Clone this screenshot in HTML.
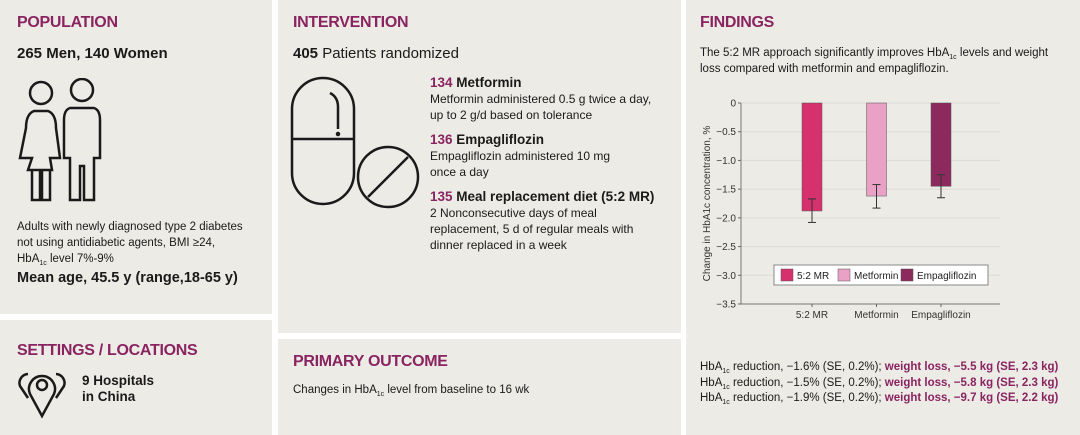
<!DOCTYPE html>
<html><head><meta charset="utf-8">
<style>
*{margin:0;padding:0;box-sizing:border-box}
body{width:1080px;height:435px;background:#fff;position:relative;overflow:hidden;font-family:"Liberation Sans Narrow","Liberation Sans",sans-serif;color:#1a1a1a}
.p{position:absolute;background:#ecebe5}
.h{position:absolute;color:#8a2461;font-weight:bold;font-size:16px;letter-spacing:-0.3px}
.t{position:absolute;font-size:12px;line-height:16px}
.b{font-weight:bold}
.m{color:#8a2461;font-weight:bold}
sub{font-size:7px;line-height:0;vertical-align:-3px}
</style></head><body>
<div class="p" style="left:0;top:0;width:272px;height:314px"></div>
<div class="p" style="left:0;top:320px;width:272px;height:115px"></div>
<div class="p" style="left:278px;top:0;width:403px;height:333px"></div>
<div class="p" style="left:278px;top:339px;width:403px;height:96px"></div>
<div class="p" style="left:686px;top:0;width:394px;height:435px"></div>

<div class="h" style="left:17px;top:14px">POPULATION</div>
<div class="t b" style="left:17px;top:46px;font-size:15px">265 Men, 140 Women</div>
<svg style="position:absolute;left:14px;top:78px" width="90" height="130" fill="none" stroke="#1a1a1a" stroke-width="2.5">
<circle cx="27" cy="15" r="11"/><path d="M20 33 L34 33 Q42 36 42 50 L46 80 L36 80 L38 92 L14 92 L18 80 L6 80 L12 50 Q12 36 20 33Z"/><path d="M18 92 L18 122 L26 122 L26 92 M28 92 L28 122 L36 122 L36 92"/>
<circle cx="68" cy="12" r="11"/><path d="M56 30 L80 30 Q86 32 86 42 L86 80 L80 80 L80 122 L70 122 L70 88 L66 88 L66 122 L56 122 L56 80 L50 80 L50 42 Q50 32 56 30Z"/></svg>
<div class="t" style="left:17px;top:219px;font-size:11.5px">Adults with newly diagnosed type 2 diabetes<br>not using antidiabetic agents, BMI ≥24,<br>HbA<sub>1c</sub> level 7%-9%</div>
<div class="t b" style="left:17px;top:270px;font-size:14.5px">Mean age, 45.5 y (range,18-65 y)</div>

<div class="h" style="left:17px;top:342px">SETTINGS / LOCATIONS</div>
<svg style="position:absolute;left:16px;top:370px" width="52" height="50" fill="none" stroke="#1a1a1a" stroke-width="2.5"><path d="M26 46 L14 24 A13 13 0 1 1 38 24Z"/><circle cx="26" cy="15" r="5"/><path d="M12 28 L4 16 A9 9 0 0 1 12 4 M40 28 L48 16 A9 9 0 0 0 40 4"/></svg>
<div class="t b" style="left:82px;top:373px;font-size:13.5px">9 Hospitals<br>in China</div>

<div class="h" style="left:293px;top:14px">INTERVENTION</div>
<div class="t" style="left:293px;top:46px;font-size:15px"><b>405</b> Patients randomized</div>
<svg style="position:absolute;left:290px;top:75px" width="140" height="135" fill="none" stroke="#1a1a1a" stroke-width="2.5"><rect x="2" y="3" width="62" height="126" rx="31"/><line x1="2" y1="64" x2="64" y2="64"/><path d="M40 18 Q48 22 48 32 L48 54"/><circle cx="48" cy="59" r="1" fill="#1a1a1a"/><circle cx="98" cy="102" r="30"/><line x1="78" y1="122" x2="118" y2="82"/></svg>
<div class="t" style="left:430px;top:75px"><span style="font-size:13.5px"><span class="m">134</span> <b>Metformin</b></span><br>Metformin administered 0.5 g twice a day,<br>up to 2 g/d based on tolerance</div>
<div class="t" style="left:430px;top:132px"><span style="font-size:13.5px"><span class="m">136</span> <b>Empagliflozin</b></span><br>Empagliflozin administered 10 mg<br>once a day</div>
<div class="t" style="left:430px;top:189px"><span style="font-size:13.5px"><span class="m">135</span> <b>Meal replacement diet (5:2 MR)</b></span><br>2 Nonconsecutive days of meal<br>replacement, 5 d of regular meals with<br>dinner replaced in a week</div>

<div class="h" style="left:293px;top:353px">PRIMARY OUTCOME</div>
<div class="t" style="left:293px;top:382px;font-size:11.5px">Changes in HbA<sub>1c</sub> level from baseline to 16 wk</div>

<div class="h" style="left:700px;top:14px">FINDINGS</div>
<div class="t" style="left:700px;top:45px;font-size:11.5px;line-height:16px">The 5:2 MR approach significantly improves HbA<sub>1c</sub> levels and weight<br>loss compared with metformin and empagliflozin.</div>

<svg id="chart" style="position:absolute;left:686px;top:90px" width="394" height="240"></svg>

<div class="t" style="left:700px;top:360px;font-size:11.5px;line-height:15.5px">HbA<sub>1c</sub> reduction, −1.6% (SE, 0.2%); <span class="m">weight loss, −5.5 kg (SE, 2.3 kg)</span><br>HbA<sub>1c</sub> reduction, −1.5% (SE, 0.2%); <span class="m">weight loss, −5.8 kg (SE, 2.3 kg)</span><br>HbA<sub>1c</sub> reduction, −1.9% (SE, 0.2%); <span class="m">weight loss, −9.7 kg (SE, 2.2 kg)</span></div>

<script>
const categories=["5:2 MR","Metformin","Empagliflozin"];
const values=[-1.88,-1.62,-1.45];
const errLow=[-2.08,-1.83,-1.65];
const errHigh=[-1.67,-1.42,-1.25];
const ticks=[0,-0.5,-1.0,-1.5,-2.0,-2.5,-3.0,-3.5];
const tickLabels=["0","−0.5","−1.0","−1.5","−2.0","−2.5","−3.0","−3.5"];
const colors=["#d6306d","#e9a2c6","#8c2a5d"];
const NS="http://www.w3.org/2000/svg";
const svg=document.getElementById('chart');
const ox=55,top0=13,bot=214,right=314;
function y(v){return top0+(v-0)/(-3.5)*(bot-top0);}
function x(i){return 126+i*64.5;}
function mk(t,a,p){const e=document.createElementNS(NS,t);for(const k in a)e.setAttribute(k,a[k]);(p||svg).appendChild(e);return e;}
ticks.forEach((v,i)=>{
 const g=mk('line',{x1:ox,x2:right,y1:y(v),y2:y(v),stroke:'#dcdbd4','stroke-width':1});
 
 
 mk('line',{x1:ox-3,x2:ox,y1:y(v),y2:y(v),stroke:'#666'});
 const t=mk('text',{x:ox-5,y:y(v)+3.5,'text-anchor':'end','font-size':10,fill:'#333','font-family':'Liberation Sans Narrow, Liberation Sans, sans-serif'});
 t.textContent=tickLabels[i];
 
 
});
mk('line',{x1:ox,x2:ox,y1:top0,y2:bot,stroke:'#777'});
mk('line',{x1:ox,x2:right,y1:bot,y2:bot,stroke:'#777'});
const yt=mk('text',{transform:`translate(24,${(top0+bot)/2}) rotate(-90)`,'text-anchor':'middle','font-size':10,fill:'#333','font-family':'Liberation Sans Narrow, Liberation Sans, sans-serif'});
yt.textContent='Change in HbA1c concentration, %';


categories.forEach((c,i)=>{
 const cx=x(i);
 const r=mk('rect',{x:cx-10,y:y(0),width:20,height:y(values[i])-y(0),fill:colors[i],stroke:'#555','stroke-width':0.5});
 
 
 mk('line',{x1:cx,x2:cx,y1:y(errLow[i]),y2:y(errHigh[i]),stroke:'#333'});
 mk('line',{x1:cx-4,x2:cx+4,y1:y(errLow[i]),y2:y(errLow[i]),stroke:'#333'});
 mk('line',{x1:cx-4,x2:cx+4,y1:y(errHigh[i]),y2:y(errHigh[i]),stroke:'#333'});
 mk('line',{x1:cx,x2:cx,y1:bot,y2:bot+3,stroke:'#666'});
 const t=mk('text',{x:cx,y:bot+14,'text-anchor':'middle','font-size':10,fill:'#333','font-family':'Liberation Sans Narrow, Liberation Sans, sans-serif'});
 t.textContent=c;
 
 
});
const lg=mk('rect',{x:88,y:175,width:214,height:20,fill:'#fff',stroke:'#888'});


const lx=[95,152,215];
categories.forEach((c,i)=>{
 mk('rect',{x:lx[i],y:179,width:12,height:12,fill:colors[i],stroke:'#555','stroke-width':0.5});
 const t=mk('text',{x:lx[i]+16,y:189,'font-size':10,fill:'#222','font-family':'Liberation Sans Narrow, Liberation Sans, sans-serif'});
 t.textContent=c;
 
 
});
</script>
</body></html>
